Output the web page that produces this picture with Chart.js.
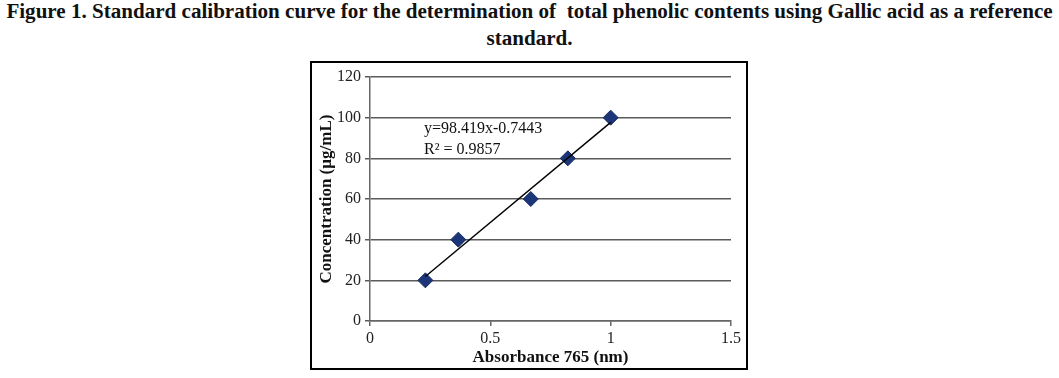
<!DOCTYPE html>
<html>
<head>
<meta charset="utf-8">
<script src="https://cdn.jsdelivr.net/npm/chart.js@4.4.1/dist/chart.umd.min.js"></script>
<style>
  html, body { margin: 0; padding: 0; background: #fff; }
  body { width: 1059px; height: 378px; position: relative; overflow: hidden; }
  .fig-title {
    position: absolute; left: 0; top: -2px; width: 1059px;
    font-family: "Liberation Serif", "DejaVu Serif", serif;
    font-weight: bold; font-size: 18px; line-height: 27px;
    color: #111; text-align: center; white-space: pre;
  }
  #box {
    position: absolute; left: 310px; top: 61px; width: 438px; height: 309px;
    border: 2px solid #000; box-sizing: border-box;
  }
  #chart { display: block; }
</style>
</head>
<body>
<div class="fig-title" id="title"><div id="t1">Figure 1. Standard calibration curve for the determination of  total phenolic contents using Gallic acid as a reference</div><div>standard.</div></div>
<div id="box"><canvas id="chart" width="434" height="305"></canvas></div>
<script>
// measured data (absorbance vs concentration)
const absorbance = [0.23, 0.367, 0.668, 0.822, 1.0];
const concentration = [20, 40, 60, 80, 100];

// linear trendline ends
const trendX = [0.23, 1.0];
const trendY = [21.9, 97.7];

const xTicks = [0, 0.5, 1, 1.5];
const yTicks = [0, 20, 40, 60, 80, 100, 120];
const eqLines = ["y=98.419x-0.7443", "R\u00B2 = 0.9857"];

const serif = "'Liberation Serif', 'DejaVu Serif', serif";

// stretch the title to the page width like the original
(function () {
    var c = document.createElement("canvas").getContext("2d");
    c.font = "bold 18px " + serif;
    var w = c.measureText(document.getElementById("t1").textContent).width;
    var size = 18 * 1047 / w;
    document.getElementById("title").style.fontSize = size.toFixed(2) + "px";
})();

const equationLabel = {
    id: "equationLabel",
    afterDraw: function (chart) {
        const ctx = chart.ctx;
        const area = chart.chartArea;
        ctx.save();
        ctx.font = "16px " + serif;
        ctx.fillStyle = "#111";
        ctx.textBaseline = "alphabetic";
        ctx.textAlign = "left";
        ctx.fillText(eqLines[0], area.left + 54, area.top + 56);
        ctx.fillText(eqLines[1], area.left + 54, area.top + 77);
        ctx.restore();
    }
};

new Chart(document.getElementById("chart"), {
    type: "scatter",
    data: {
        datasets: [
            {
                label: "Linear",
                type: "line",
                data: trendX.map((x, i) => ({ x: x, y: trendY[i] })),
                borderColor: "#000",
                borderWidth: 1.4,
                pointRadius: 0,
                fill: false,
                tension: 0,
            },
            {
                label: "Gallic acid",
                data: absorbance.map((x, i) => ({ x: x, y: concentration[i] })),
                pointStyle: "rectRot",
                pointRadius: 7.5,
                backgroundColor: "#1d3679",
                borderColor: "#142a60",
                borderWidth: 1,
            },
        ],
    },
    options: {
        responsive: false,
        devicePixelRatio: 1,
        animation: false,
        layout: { padding: { top: 14, right: 15, left: 0, bottom: 0 } },
        plugins: { legend: { display: false }, tooltip: { enabled: false } },
        scales: {
            x: {
                type: "linear",
                min: 0,
                max: 1.5,
                afterBuildTicks: (s) => { s.ticks = xTicks.map((v) => ({ value: v })); },
                afterFit: (s) => { s.height = 47; },
                ticks: {
                    color: "#222",
                    font: { family: serif, size: 16 },
                    padding: 3,
                    maxRotation: 0,
                    callback: (v) => String(v),
                },
                grid: { drawOnChartArea: false, drawTicks: true, tickLength: 5, color: "#666", lineWidth: 1.5 },
                border: { display: true, color: "#666", width: 1.5 },
                title: {
                    display: true,
                    text: "Absorbance 765 (nm)",
                    color: "#111",
                    font: { family: serif, size: 17, weight: "bold" },
                    padding: { top: 0, bottom: 0 },
                },
            },
            y: {
                type: "linear",
                min: 0,
                max: 120,
                afterBuildTicks: (s) => { s.ticks = yTicks.map((v) => ({ value: v })); },
                afterFit: (s) => { s.width = 58; },
                ticks: {
                    color: "#222",
                    font: { family: serif, size: 16 },
                    padding: 4,
                    callback: (v) => String(v),
                },
                grid: { drawTicks: true, tickLength: 5, color: "#5a5a5a", lineWidth: 1.5 },
                border: { display: true, color: "#666", width: 1.5 },
                title: {
                    display: true,
                    text: "Concentration (\u00B5g/mL)",
                    color: "#111",
                    font: { family: serif, size: 17, weight: "bold" },
                    padding: { top: 4, bottom: 0 },
                },
            },
        },
    },
    plugins: [equationLabel],
});
</script>
</body>
</html>
